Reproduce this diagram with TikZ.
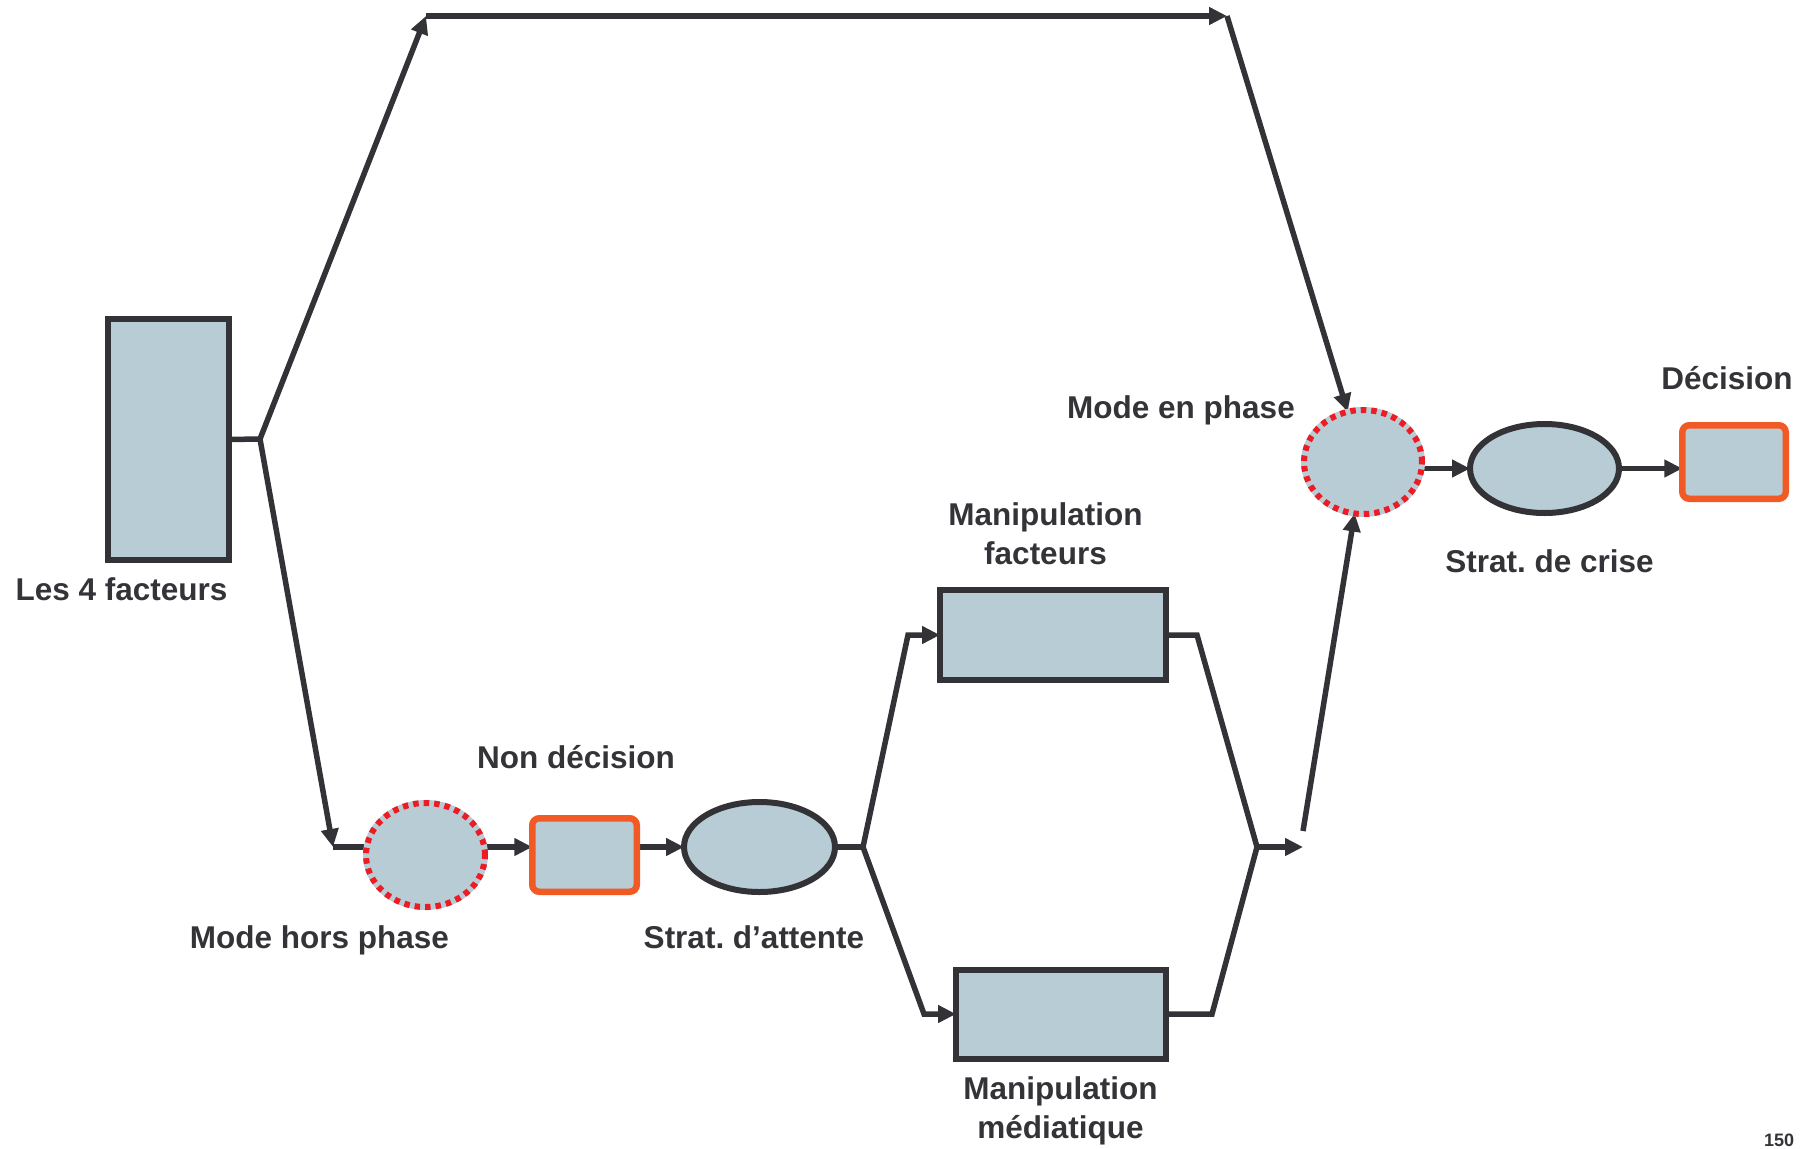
\documentclass[tikz,border=0pt]{standalone}
\usepackage{fontspec}
\setmainfont{Liberation Sans}
\usetikzlibrary{arrows.meta,shapes.geometric,backgrounds}

\definecolor{boxfill}{HTML}{B7CCD5}
\definecolor{ink}{HTML}{333236}
\definecolor{accent}{HTML}{F15A24}
\definecolor{dotred}{HTML}{ED1C24}
\definecolor{txt}{HTML}{343338}

\tikzset{
  base/.style={fill=boxfill, outer sep=0pt, inner sep=0pt},
  plainbox/.style={base, rectangle, draw=ink, line width=6pt},
  roundbox/.style={base, rectangle, rounded corners=7pt, draw=accent, line width=6.5pt},
  oval/.style={base, ellipse, draw=ink, line width=6pt},
  dotoval/.style={base, ellipse, draw=dotred, line width=6pt, dash pattern=on 5.5pt off 5pt,
    preaction={draw=boxfill, solid}},
  link/.style={draw=ink, line width=5.5pt, line join=miter},
  tip/.tip={Triangle[length=18pt,width=17pt]},
  arr/.style={link, -tip},
  dblarr/.style={link, tip-tip},
  lbl/.style={text=txt, font=\fontsize{31.5}{39}\selectfont\bfseries, inner sep=0pt, outer sep=0pt, align=center},
}

\begin{document}
\frenchspacing
\begin{tikzpicture}[x=1pt,y=-1pt]
\useasboundingbox (0,0) rectangle (1806,1148);

% shapes
\node[plainbox, minimum width=121pt, minimum height=241pt] (f4) at (168,439.5) {};
\node[dotoval, minimum width=119pt, minimum height=104pt] (mhp) at (425.5,855) {};
\node[roundbox, minimum width=104.5pt, minimum height=73.5pt] (nd) at (584.5,855) {};
\node[oval, minimum width=151pt, minimum height=90pt] (sa) at (759.5,847) {};
\node[plainbox, minimum width=226pt, minimum height=90pt] (mf) at (1053,635) {};
\node[plainbox, minimum width=210pt, minimum height=89pt] (mm) at (1061,1014) {};
\node[dotoval, minimum width=118pt, minimum height=104pt] (mep) at (1363,462) {};
\node[oval, minimum width=149pt, minimum height=89pt] (sc) at (1544.5,468.5) {};
\node[roundbox, minimum width=103.5pt, minimum height=73.5pt] (dec) at (1734,462) {};

% bends and junctions of the connectors
\coordinate (j1) at (260,439);
\coordinate (tl) at (426,16);
\coordinate (tr) at (1227,16);
\coordinate (c1) at (333,847);
\coordinate (j2) at (863,847);
\coordinate (k1) at (908,635);
\coordinate (k2) at (924,1014);
\coordinate (k3) at (1197,635);
\coordinate (k4) at (1212,1014);
\coordinate (j3) at (1257,847);
\coordinate (k5) at (1303,847);
\coordinate (k6) at (1303,831);

% connectors, behind the shapes
\begin{scope}[on background layer]
  \draw[link] (f4.east) -- (j1);
  \draw[dblarr] (tl) -- (j1) -- (c1);
  \draw[arr] (tl) -- (tr);
  \draw[arr] (tr) -- (mep);
  \draw[link] (c1) -- (c1 -| mhp.center);
  \draw[arr] (mhp.center |- sa) -- (nd.west |- sa);
  \draw[arr] (nd.east |- sa) -- (sa.west);
  \draw[link] (sa.east) -- (j2);
  \draw[dblarr] (mf.west) -- (k1) -- (j2) -- (k2) -- (mm.west);
  \draw[link] (mf.east) -- (k3) -- (j3) -- (k4) -- (mm.east);
  \draw[arr] (j3) -- (k5);
  \draw[arr] (k6) -- (mep);
  \draw[arr] (mep.center |- sc) -- (sc.west);
  \draw[arr] (sc.east) -- (sc.east -| dec.west);
\end{scope}

% labels
\node[lbl, anchor=base] (tf4) at (121.5,600) {Les 4 facteurs};
\node[lbl, anchor=base] (tmhp) at (319.5,948) {Mode hors phase};
\node[lbl, anchor=base] (tnd) at (576,768) {Non décision};
\node[lbl, anchor=base] (tsa) at (754,948) {Strat. d’attente};
\node[lbl] (tmf) at (1045.5,533.5) {Manipulation\\facteurs};
\node[lbl] (tmm) at (1060.5,1110.5) {Manipulation\\médiatique};
\node[lbl, anchor=base] (tmep) at (1181,418) {Mode en phase};
\node[lbl, anchor=base] (tdec) at (1727,389) {Décision};
\node[lbl, anchor=base] (tsc) at (1549.5,572) {Strat. de crise};
\node[lbl, anchor=base, font=\fontsize{18}{20}\selectfont\bfseries] (tpg) at (1779,1146) {150};
\end{tikzpicture}
\end{document}
